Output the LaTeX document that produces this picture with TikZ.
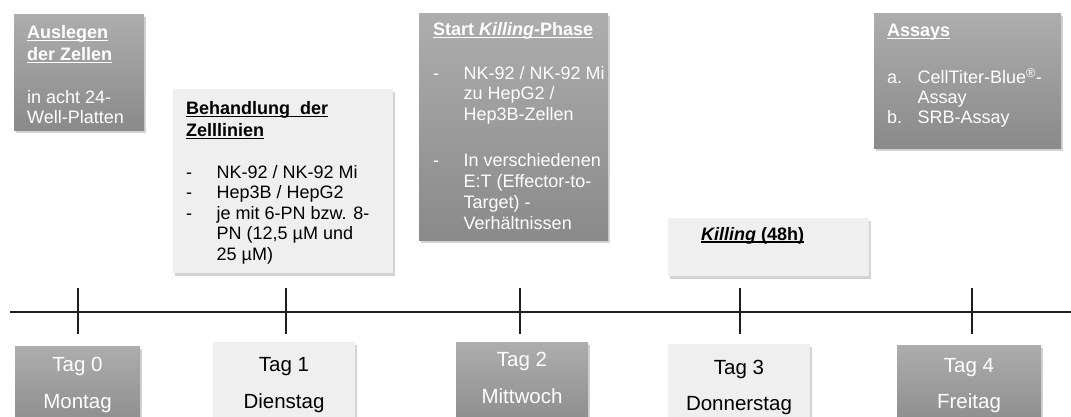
\documentclass[tikz,border=0pt]{standalone}
\usepackage{fontspec}
\setmainfont{Liberation Sans}
\usetikzlibrary{shadows}
\newsavebox{\ulbox}
\newcommand{\ulx}[1]{\sbox{\ulbox}{#1}\rlap{\rule[-2.6pt]{\wd\ulbox}{1.2pt}}\usebox{\ulbox}}
\definecolor{gtop}{HTML}{ADADAD}
\definecolor{gbot}{HTML}{8A8A8A}
\definecolor{lbox}{HTML}{EFEFEF}
\definecolor{axiscol}{HTML}{1E1E1E}
\newcommand{\dashitem}{\makebox[30.5pt][l]{-}}
\newcommand{\contind}{\hspace*{30.5pt}}
\newcommand{\bodyfont}{\fontsize{18}{20.5}\selectfont}
\newcommand{\titlefont}{\fontsize{18}{22}\selectfont\bfseries}
\newcommand{\dayfont}{\fontsize{20.5}{37}\selectfont}
\begin{document}
\begin{tikzpicture}[x=1pt,y=-1pt,
  shadowed/.style={drop shadow={shadow xshift=2pt,shadow yshift=-2.5pt,opacity=0.35}},
  darkbox/.style={shadowed,top color=gtop,bottom color=gbot,draw=none,anchor=north west,inner sep=0pt,outer sep=0pt},
  lightbox/.style={shadowed,fill=lbox,draw=none,anchor=north west,inner sep=0pt,outer sep=0pt},
  wtxt/.style={text=white,inner sep=0pt,anchor=north west,align=left},
  btxt/.style={text=black,inner sep=0pt,anchor=north west,align=left},
  daytxt/.style={inner sep=0pt,anchor=base,font=\dayfont},
  tickline/.style={draw=axiscol,line width=1.1pt},
  axisline/.style={draw=axiscol,line width=1.3pt}]
\useasboundingbox (0,0) rectangle (1071,416);

% top boxes
\node[darkbox,minimum width=130pt,minimum height=116pt] (bA) at (14,14) {};
\node[lightbox,minimum width=220pt,minimum height=184pt] (bB) at (173,89) {};
\node[darkbox,minimum width=189pt,minimum height=227pt] (bC) at (419,13) {};
\node[lightbox,minimum width=201pt,minimum height=58pt] (bD) at (668,218) {};
\node[darkbox,minimum width=187pt,minimum height=135pt] (bE) at (874,13) {};

% day boxes
\node[darkbox,minimum width=125pt,minimum height=86pt] (d0) at (15,346) {};
\node[lightbox,minimum width=142pt,minimum height=90pt] (d1) at (213,342) {};
\node[darkbox,minimum width=132pt,minimum height=90pt] (d2) at (456,342) {};
\node[lightbox,minimum width=142pt,minimum height=90pt] (d3) at (668,344) {};
\node[darkbox,minimum width=144pt,minimum height=86pt] (d4) at (897,345) {};

% texts in top boxes
\node[wtxt,font=\titlefont] (tA) at (27,25) {\ulx{Auslegen}\\\ulx{der Zellen}};
\node[wtxt,font=\bodyfont] (xA) at (27,90) {in acht 24-\\Well-Platten};

\node[btxt,font=\titlefont] (tB) at (186,101) {\ulx{Behandlung\ \ der}\\\ulx{Zelllinien}};
\node[btxt,font=\bodyfont] (xB) at (186,165) {\dashitem NK-92 / NK-92 Mi\\\dashitem Hep3B\ / HepG2\\\dashitem je mit 6-PN bzw. 8-\\\contind PN (12,5 µM und\\\contind 25 µM)};

\node[wtxt,font=\titlefont] (tC) at (433,22) {\ulx{Start \textit{Killing}-Phase}};
\node[wtxt,font=\bodyfont] (xC) at (433,66) {\dashitem NK-92 / NK-92 Mi\\\contind zu HepG2\ /\\\contind Hep3B-Zellen\\[26pt]\dashitem In verschiedenen\\[0.5pt]\contind E:T (Effector-to-\\[0.5pt]\contind Target) -\\[0.5pt]\contind Verhältnissen};

\node[btxt,font=\titlefont,anchor=base west] (tD) at (701,240) {\ulx{\textit{Killing} (48h)}};

\node[wtxt,font=\titlefont] (tE) at (887,24) {\ulx{Assays}};
\node[wtxt,font=\bodyfont] (xE) at (887,68) {\makebox[30.5pt][l]{a.}CellTiter-Blue\textsuperscript{®}-\\[-0.5pt]\contind Assay\\[-0.5pt]\makebox[30.5pt][l]{b.}SRB-Assay};

% day labels
\node[daytxt,text=white] (l0a) at (77.5,371) {Tag 0};
\node[daytxt,text=white] (l0b) at (77.5,408) {Montag};
\node[daytxt,text=black] (l1a) at (284,371) {Tag 1};
\node[daytxt,text=black] (l1b) at (284,408) {Dienstag};
\node[daytxt,text=white] (l2a) at (522,366) {Tag 2};
\node[daytxt,text=white] (l2b) at (522,403) {Mittwoch};
\node[daytxt,text=black] (l3a) at (739,374) {Tag 3};
\node[daytxt,text=black] (l3b) at (739,410) {Donnerstag};
\node[daytxt,text=white] (l4a) at (969,372) {Tag 4};
\node[daytxt,text=white] (l4b) at (969,408) {Freitag};

% timeline
\coordinate (Lstart) at (10,312);
\coordinate (Lend) at (1071,312);
\draw[axisline] (Lstart) -- (Lend);
\foreach \i/\x in {0/78,1/286,2/520,3/740,4/972}{
  \coordinate (tt\i) at (\x,288);
  \coordinate (tb\i) at (\x,334);
  \draw[tickline] (tt\i) -- (tb\i);
}
\end{tikzpicture}
\end{document}
